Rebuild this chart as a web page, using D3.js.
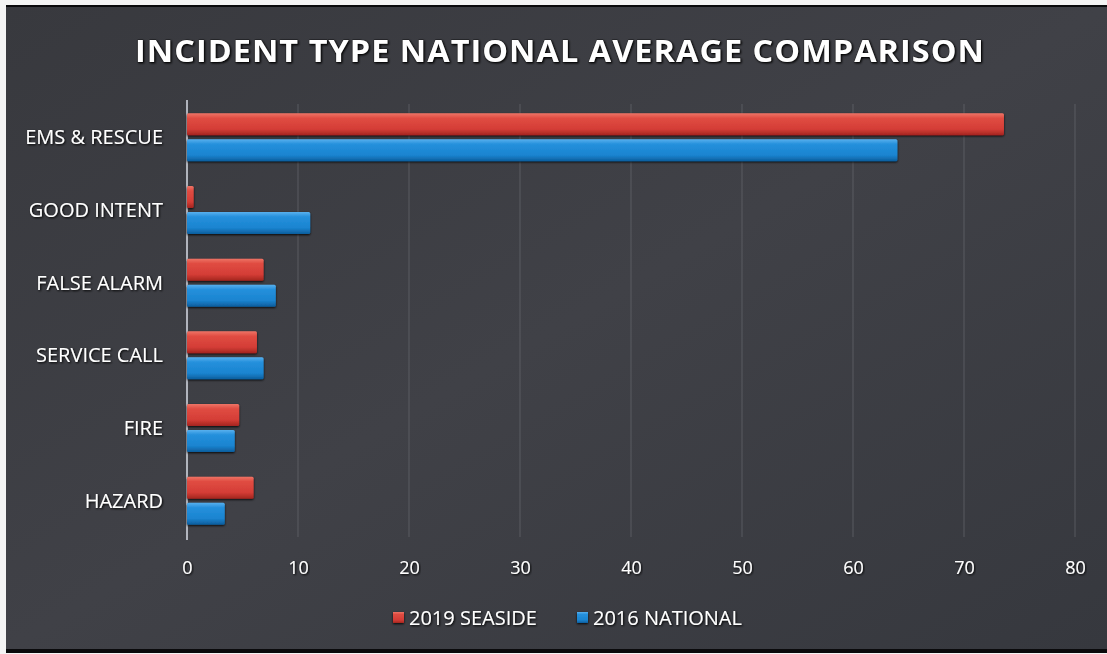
<!DOCTYPE html>
<html><head><meta charset="utf-8">
<script src="https://cdn.jsdelivr.net/npm/d3@7"></script>
<style>
html,body{margin:0;padding:0;background:#fff;}
svg{display:block;}
</style></head>
<body>
<script>
const categories = ["EMS & RESCUE","GOOD INTENT","FALSE ALARM","SERVICE CALL","FIRE","HAZARD"];
const seaside2019 = [73.6, 0.6, 6.9, 6.3, 4.7, 6.0];
const national2016 = [64.0, 11.1, 8.0, 6.9, 4.3, 3.4];
const seriesNames = ["2019 SEASIDE","2016 NATIONAL"];
const xTicks = [0,10,20,30,40,50,60,70,80];
const title = "INCIDENT TYPE NATIONAL AVERAGE COMPARISON";

const W = 1107, H = 654;
const svg = d3.select("body").append("svg").attr("width", W).attr("height", H);
const defs = svg.append("defs");

const bg = defs.append("linearGradient").attr("id","bg").attr("x1",0).attr("y1",0).attr("x2",1).attr("y2",1);
bg.append("stop").attr("offset","0%").attr("stop-color","#38393e");
bg.append("stop").attr("offset","50%").attr("stop-color","#404147");
bg.append("stop").attr("offset","100%").attr("stop-color","#36383e");

function barGrad(id, c1, c2, c3, c4){
  const g = defs.append("linearGradient").attr("id",id).attr("x1",0).attr("y1",0).attr("x2",0).attr("y2",1);
  g.append("stop").attr("offset","0%").attr("stop-color",c1);
  g.append("stop").attr("offset","22%").attr("stop-color",c2);
  g.append("stop").attr("offset","72%").attr("stop-color",c3);
  g.append("stop").attr("offset","100%").attr("stop-color",c4);
}
barGrad("gRed", "#ee7466", "#e04c42", "#d43d36", "#a3251f");
barGrad("gBlue", "#58b0ee", "#2590dc", "#1a84d0", "#0d5d9c");

const sh = defs.append("filter").attr("id","sh").attr("x","-10%").attr("y","-40%").attr("width","120%").attr("height","180%");
sh.append("feDropShadow").attr("dx",0).attr("dy",1).attr("stdDeviation",1.2).attr("flood-color","#000").attr("flood-opacity",0.9);
const tsh = defs.append("filter").attr("id","tsh").attr("x","-5%").attr("y","-30%").attr("width","110%").attr("height","160%");
tsh.append("feDropShadow").attr("dx",1).attr("dy",1).attr("stdDeviation",0.8).attr("flood-color","#000").attr("flood-opacity",1);

svg.append("rect").attr("x",0).attr("y",0).attr("width",W).attr("height",H).attr("fill","#f4f4f4");
svg.append("rect").attr("x",6).attr("y",5).attr("width",W-6).attr("height",H-6).attr("fill","#0a0a0c");
svg.append("rect").attr("x",6).attr("y",7).attr("width",W-6).attr("height",H-12).attr("fill","url(#bg)");

// title
svg.append("text").attr("x",560).attr("y",62).attr("text-anchor","middle")
  .attr("fill","#ffffff").attr("font-family","Open Sans, sans-serif").attr("font-weight",700)
  .attr("font-size",31).attr("textLength",850).attr("lengthAdjust","spacingAndGlyphs")
  .attr("letter-spacing",1)
  .attr("stroke","#111").attr("stroke-width",0.6).attr("paint-order","stroke")
  .attr("filter","url(#tsh)").text(title);

const x = d3.scaleLinear().domain([0,80]).range([187,1075]);
const y = d3.scaleBand().domain(categories).range([101,537]);

svg.append("g").selectAll("line").data(xTicks.filter(d=>d>0)).join("line")
  .attr("x1",d=>x(d)).attr("x2",d=>x(d)).attr("y1",104).attr("y2",537)
  .attr("stroke","#6c6e75").attr("stroke-width",1).attr("opacity",0.6);

const xAxis = d3.axisBottom(x).tickValues(xTicks).tickSize(0).tickPadding(0);
const gx = svg.append("g").attr("transform","translate(0,574)").call(xAxis);
gx.select(".domain").remove();
gx.selectAll("text").attr("fill","#ffffff").attr("font-family","Open Sans, sans-serif")
  .attr("font-size",18).attr("dy","0").attr("filter","url(#tsh)");

const yAxis = d3.axisLeft(y).tickSize(0).tickPadding(0);
const gy = svg.append("g").attr("transform","translate(163,0)").call(yAxis);
gy.select(".domain").remove();
gy.selectAll("text").attr("fill","#ffffff").attr("font-family","Open Sans, sans-serif")
  .attr("font-size",20).attr("dy","0.35em").attr("filter","url(#tsh)");

svg.append("line").attr("x1",x(0)).attr("x2",x(0)).attr("y1",100).attr("y2",540)
  .attr("stroke","#d8dde6").attr("stroke-width",1.5);

const barH = 22, gap = 2;
const gb = svg.append("g").attr("filter","url(#sh)");
categories.forEach((c,i)=>{
  const cy = y(c) + y.bandwidth()/2;
  [[seaside2019[i],"url(#gRed)",cy-gap-barH],[national2016[i],"url(#gBlue)",cy+gap]].forEach(([v,f,yy])=>{
    gb.append("rect").attr("x",x(0)).attr("y",yy).attr("width",x(v)-x(0)).attr("height",barH)
      .attr("fill",f).attr("rx",1.5);
  });
});

const legend = [{name:seriesNames[0], fill:"url(#gRed)", x:393},{name:seriesNames[1], fill:"url(#gBlue)", x:577}];
const lg = svg.append("g");
legend.forEach(l=>{
  lg.append("rect").attr("x",l.x).attr("y",612).attr("width",11).attr("height",11).attr("fill",l.fill).attr("filter","url(#sh)");
  lg.append("text").attr("x",l.x+16).attr("y",625).attr("fill","#fff").attr("font-family","Open Sans, sans-serif")
    .attr("font-size",20).attr("filter","url(#tsh)").text(l.name);
});
</script>
</body></html>
